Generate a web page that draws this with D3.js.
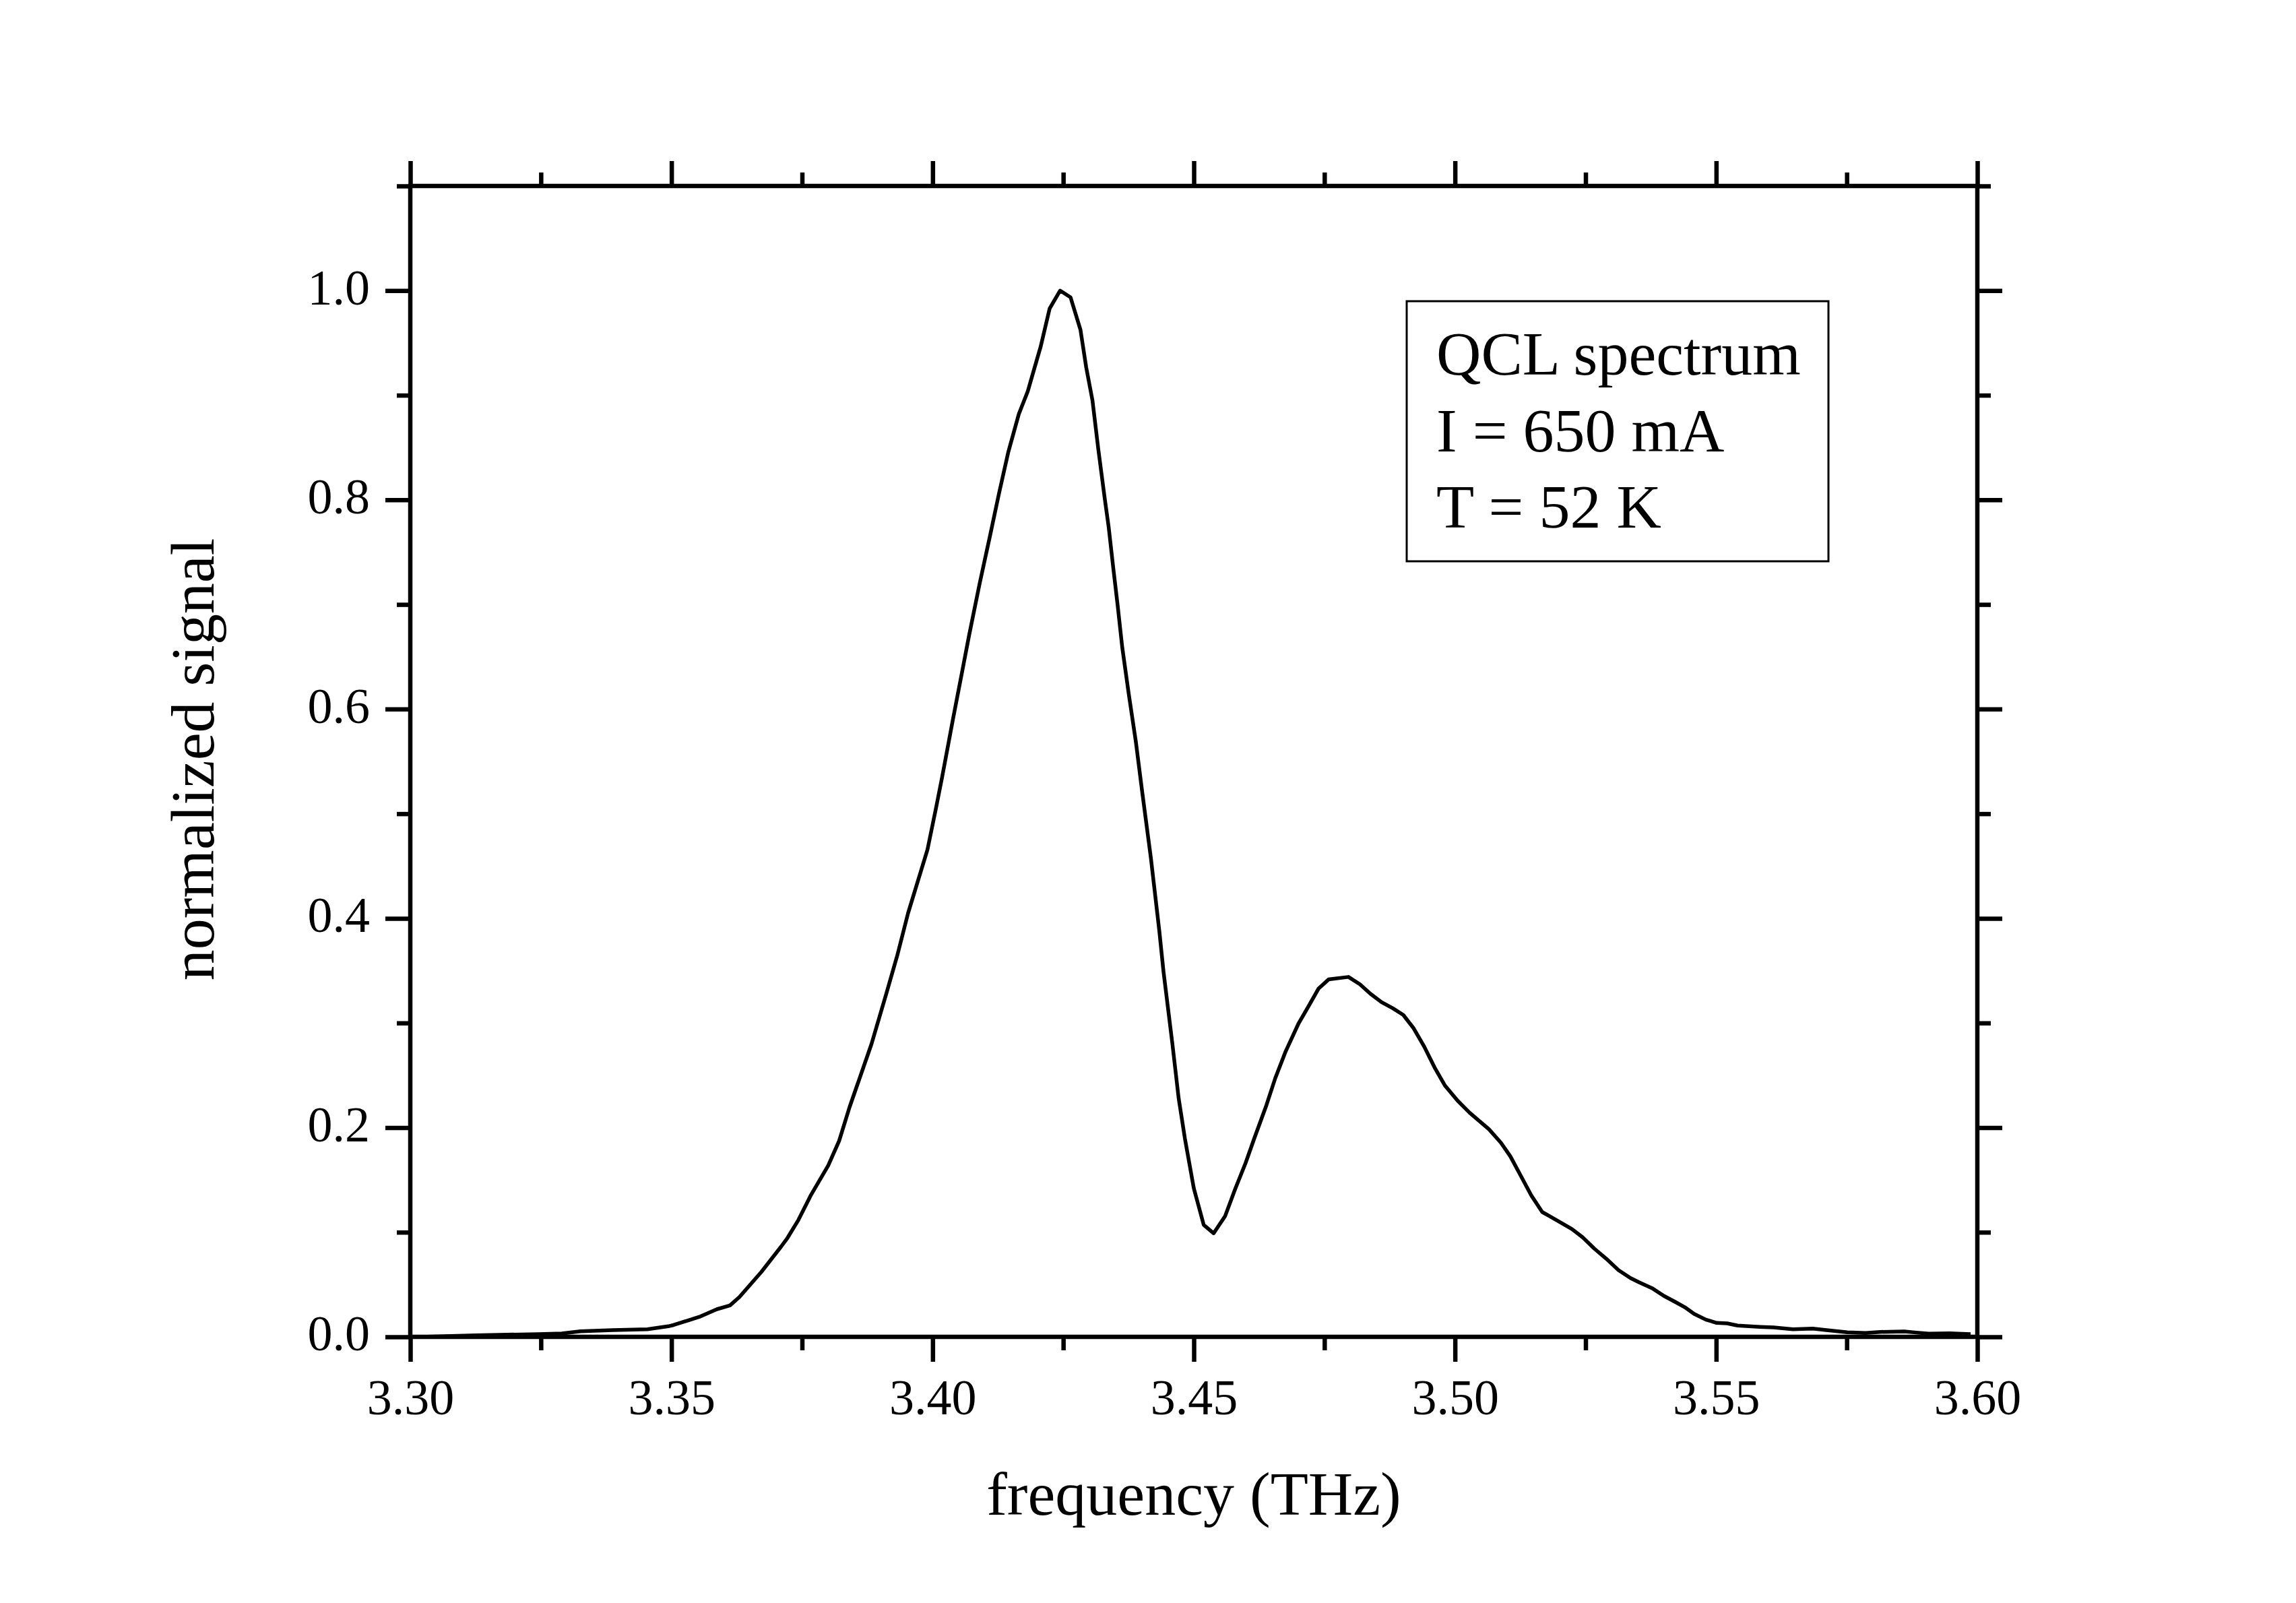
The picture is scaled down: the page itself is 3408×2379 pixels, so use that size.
<!DOCTYPE html>
<meta charset="utf-8">

<script src="https://d3js.org/d3.v7.min.js"></script>

<style type="text/css">
  body { margin: 0; background: #fff; }
  text { font-family: "Liberation Serif", "Times New Roman", serif; fill: #000; }
  .axis path { display: none; }
  .axis line { stroke: #000; stroke-width: 6.5; }
  .axis text { font-size: 74px; }
</style>

<body>
</body>

<script>

// spectrum
var freq = [3.302, 3.3125, 3.3245, 3.329, 3.3326, 3.3388, 3.3454, 3.3494, 3.3504, 3.3553,
            3.3587, 3.3612, 3.3630, 3.3672, 3.371, 3.3722, 3.3743, 3.3767, 3.380, 3.3821,
            3.3841, 3.3883, 3.3911, 3.3932, 3.3953, 3.399, 3.4006, 3.4018, 3.4039, 3.4055,
            3.407, 3.409, 3.411, 3.4127, 3.4145, 3.4165, 3.4182, 3.4207, 3.4224, 3.4244,
            3.4264, 3.4283, 3.4294, 3.4306, 3.4317, 3.4329, 3.4337, 3.4346, 3.4354, 3.4363,
            3.4375, 3.4389, 3.4401, 3.4418, 3.4434, 3.4442, 3.4459, 3.4471, 3.4483, 3.450,
            3.4519, 3.4538, 3.456, 3.4579, 3.4599, 3.4616, 3.4639, 3.4656, 3.4676, 3.470,
            3.472, 3.4739, 3.4758, 3.4796, 3.4818, 3.4838, 3.4859, 3.4881, 3.4901, 3.4921,
            3.4941, 3.4961, 3.4981, 3.5005, 3.5028, 3.5065, 3.5088, 3.5106, 3.5126, 3.5146,
            3.5167, 3.5181, 3.5204, 3.5224, 3.5244, 3.5267, 3.529, 3.5313, 3.5336, 3.5353,
            3.5377, 3.540, 3.5423, 3.544, 3.5458, 3.548, 3.5501, 3.5521, 3.5541, 3.5584,
            3.561, 3.5647, 3.5685, 3.5711, 3.5751, 3.5786, 3.5814, 3.586, 3.5883, 3.5907,
            3.5947, 3.5987];

var signal = [0.000, 0.0015, 0.0026, 0.0032, 0.0053, 0.0064, 0.0073, 0.0101, 0.0113, 0.019,
              0.0264, 0.030, 0.038, 0.062, 0.0863, 0.0945, 0.1117, 0.1355, 0.1636, 0.1873,
              0.2196, 0.280, 0.3275, 0.364, 0.405, 0.4655, 0.5043, 0.5346, 0.5906, 0.632,
              0.671, 0.720, 0.766, 0.806, 0.846, 0.882, 0.9036, 0.9468, 0.9828, 1.000,
              0.9936, 0.9626, 0.9266, 0.895, 0.849, 0.803, 0.774, 0.734, 0.700, 0.659,
              0.616, 0.569, 0.5216, 0.4569, 0.3878, 0.349, 0.280, 0.228, 0.1894, 0.142,
              0.107, 0.099, 0.1155, 0.141, 0.166, 0.190, 0.2214, 0.2473, 0.273, 0.299,
              0.3163, 0.333, 0.3416, 0.344, 0.337, 0.328, 0.320, 0.314, 0.3077, 0.2948,
              0.2775, 0.2574, 0.240, 0.2257, 0.2142, 0.1984, 0.1855, 0.1725, 0.1539, 0.1352,
              0.1193, 0.1153, 0.1088, 0.103, 0.0953, 0.0842, 0.0745, 0.0638, 0.0562, 0.052,
              0.0466, 0.0391, 0.033, 0.0283, 0.0219, 0.0165, 0.0133, 0.0129, 0.0108, 0.0095,
              0.009, 0.0073, 0.0079, 0.0064, 0.0043, 0.0037, 0.0047, 0.0052, 0.0041, 0.003,
              0.0034, 0.0026];

var xMajor = [3.30, 3.35, 3.40, 3.45, 3.50, 3.55, 3.60];
var xMinor = [3.325, 3.375, 3.425, 3.475, 3.525, 3.575];
var yMajor = [0.0, 0.2, 0.4, 0.6, 0.8, 1.0];
var yMinor = [0.1, 0.3, 0.5, 0.7, 0.9, 1.1];

var legendLines = ["QCL spectrum", "I = 650 mA", "T = 52 K"];

var W = 3408, H = 2379;
var margin = {top: 276, right: 473, bottom: 395, left: 609};

var width = W - margin.left - margin.right,
    height = H - margin.top - margin.bottom;

var svg = d3.select("body").append("svg")
    .attr("width", W)
    .attr("height", H)
  .append("g")
    .attr("transform", "translate(" + margin.left + "," + margin.top + ")");

var x = d3.scaleLinear().domain([3.30, 3.60]).range([0, width]);
var y = d3.scaleLinear().domain([0, 1.1]).range([height, 0]);

var fmt = d3.format(".2f"), fmtY = d3.format(".1f");

// bottom
svg.append("g").attr("class", "axis")
    .attr("transform", "translate(0," + height + ")")
    .call(d3.axisBottom(x).tickValues(xMajor).tickSize(37).tickPadding(25).tickFormat(fmt));
svg.append("g").attr("class", "axis")
    .attr("transform", "translate(0," + height + ")")
    .call(d3.axisBottom(x).tickValues(xMinor).tickSize(20).tickFormat(""));

// top
svg.append("g").attr("class", "axis")
    .call(d3.axisTop(x).tickValues(xMajor).tickSize(37).tickFormat(""));
svg.append("g").attr("class", "axis")
    .call(d3.axisTop(x).tickValues(xMinor).tickSize(20).tickFormat(""));

// left
var yl = svg.append("g").attr("class", "axis")
    .call(d3.axisLeft(y).tickValues(yMajor).tickSize(37).tickPadding(23).tickFormat(fmtY));
yl.selectAll("text").attr("dy", "0.27em");
svg.append("g").attr("class", "axis")
    .call(d3.axisLeft(y).tickValues(yMinor).tickSize(20).tickFormat(""));

// right
svg.append("g").attr("class", "axis")
    .attr("transform", "translate(" + width + ",0)")
    .call(d3.axisRight(y).tickValues(yMajor).tickSize(37).tickFormat(""));
svg.append("g").attr("class", "axis")
    .attr("transform", "translate(" + width + ",0)")
    .call(d3.axisRight(y).tickValues(yMinor).tickSize(20).tickFormat(""));

// frame
svg.append("rect")
    .attr("width", width)
    .attr("height", height)
    .attr("fill", "none")
    .attr("stroke", "#000")
    .attr("stroke-width", 6.5);

// curve
var line = d3.line()
    .x(function(d, i) { return x(freq[i]); })
    .y(function(d) { return y(d); });

svg.append("path")
    .datum(signal)
    .attr("fill", "none")
    .attr("stroke", "#000")
    .attr("stroke-width", 5.5)
    .attr("stroke-linejoin", "round")
    .attr("d", line);

// axis titles
svg.append("text")
    .attr("x", width / 2)
    .attr("y", height + 264)
    .attr("text-anchor", "middle")
    .style("font-size", "92px")
    .text("frequency (THz)");

svg.append("text")
    .attr("transform", "translate(" + (317 - margin.left) + "," + (height / 2 - 3) + ") rotate(-90)")
    .attr("text-anchor", "middle")
    .style("font-size", "92px")
    .text("normalized signal");

// legend
var lg = svg.append("g")
    .attr("transform", "translate(" + (2088 - margin.left) + "," + (447 - margin.top) + ")");

lg.append("rect")
    .attr("width", 626)
    .attr("height", 386)
    .attr("fill", "#fff")
    .attr("stroke", "#000")
    .attr("stroke-width", 3);

lg.selectAll(".lt")
    .data(legendLines)
  .enter().append("text")
    .attr("class", "lt")
    .attr("x", 44)
    .attr("y", function(d, i) { return 109 + i * 113.5; })
    .style("font-size", "92px")
    .text(function(d) { return d; });

</script>
